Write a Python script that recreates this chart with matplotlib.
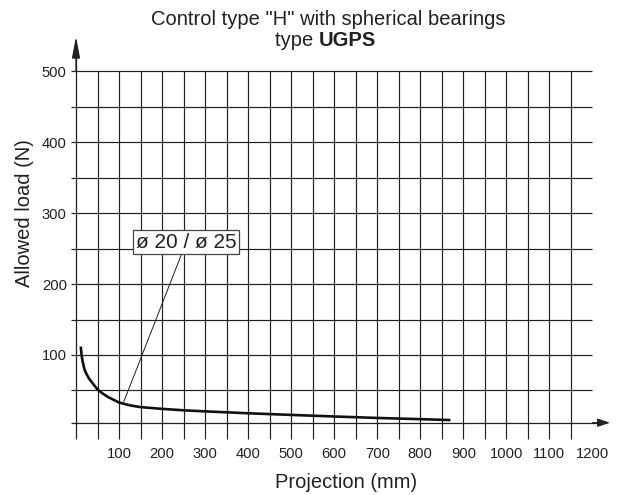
import matplotlib
matplotlib.use("Agg")
import matplotlib.pyplot as plt

plt.rcParams['font.family'] = ['Liberation Sans', 'DejaVu Sans']

# *** Chart data ***

# Allowed load curve for ø 20 / ø 25
curve_x = [11, 13, 15, 20, 25, 30, 40, 50, 60, 75, 100, 125, 150, 200, 250, 300, 400, 500, 600, 700, 800, 870]
curve_y = [112, 100, 92, 79, 72.5, 67, 59, 51.5, 46.5, 40.5, 33, 29, 26.5, 24, 22, 20.5, 17.8, 15.5, 13.3, 11.2, 9.5, 8.2]

x_ticks = [100, 200, 300, 400, 500, 600, 700, 800, 900, 1000, 1100, 1200]
y_ticks = [100, 200, 300, 400, 500]

grid_x = list(range(50, 1200, 50))      # vertical grid lines
grid_y = list(range(50, 550, 50))       # horizontal grid lines

curve_label = "ø 20 / ø 25"

ink = '#231f20'

fig = plt.figure(figsize=(6.22, 4.95), dpi=100)
ax = fig.add_axes([0.1118, 0.1038, 0.8753, 0.8307])
ax.set_xlim(-15, 1250)
ax.set_ylim(-25, 555)

# Grid
for gx in grid_x:
    ax.plot([gx, gx], [-18, 500], color=ink, lw=0.85, solid_capstyle='butt')
for gy in grid_y:
    ax.plot([-12, 1200], [gy, gy], color=ink, lw=0.85, solid_capstyle='butt')

# Axes with arrows
ax.plot([0, 0], [-18, 530], color=ink, lw=0.9, solid_capstyle='butt')
ax.plot([-12, 1225], [4.5, 4.5], color=ink, lw=0.9, solid_capstyle='butt')
ax.annotate('', xy=(0, 549), xytext=(0, 500),
            arrowprops=dict(arrowstyle='-|>,head_length=1.3,head_width=0.25',
                            color=ink, lw=0.9, mutation_scale=10, shrinkA=0, shrinkB=0))
ax.annotate('', xy=(1241, 4.5), xytext=(1200, 4.5),
            arrowprops=dict(arrowstyle='-|>,head_length=0.75,head_width=0.25',
                            color=ink, lw=0.9, mutation_scale=10, shrinkA=0, shrinkB=0))

# Load curve
ax.plot(curve_x, curve_y, color='#111111', lw=1.9, solid_capstyle='butt',
        solid_joinstyle='round')

# Curve label with leader line
ax.annotate(curve_label, xy=(111, 34), xytext=(256, 259),
            ha='center', va='center', fontsize=15, color=ink,
            bbox=dict(boxstyle='square,pad=0.12', fc='white', ec='#444444', lw=0.9),
            arrowprops=dict(arrowstyle='-', color=ink, lw=0.7, shrinkA=0, shrinkB=0))

# Ticks
for side in ax.spines.values():
    side.set_visible(False)
ax.set_xticks(x_ticks)
ax.set_xticklabels([str(v) for v in x_ticks])
ax.set_yticks(y_ticks)
ax.set_yticklabels([str(v) for v in y_ticks])
ax.tick_params(length=0, labelsize=10.6, colors=ink)
ax.tick_params(axis='x', pad=2.3)
ax.tick_params(axis='y', pad=2.0)

# Titles and labels
fig.text(0.527, 0.96, 'Control type "H" with spherical bearings',
         ha='center', va='center', fontsize=14.5, color=ink)
fig.text(0.513, 0.918, 'type ', ha='right', va='center', fontsize=14.5, color=ink)
fig.text(0.513, 0.918, 'UGPS', ha='left', va='center', fontsize=14.5,
         fontweight='bold', color=ink)
fig.text(0.556, 0.026, 'Projection (mm)', ha='center', va='center',
         fontsize=14.5, color=ink)
fig.text(0.0386, 0.570, 'Allowed load (N)', ha='center', va='center',
         rotation=90, fontsize=14.5, color=ink)

fig.savefig('out.png', dpi=100, facecolor='white')
